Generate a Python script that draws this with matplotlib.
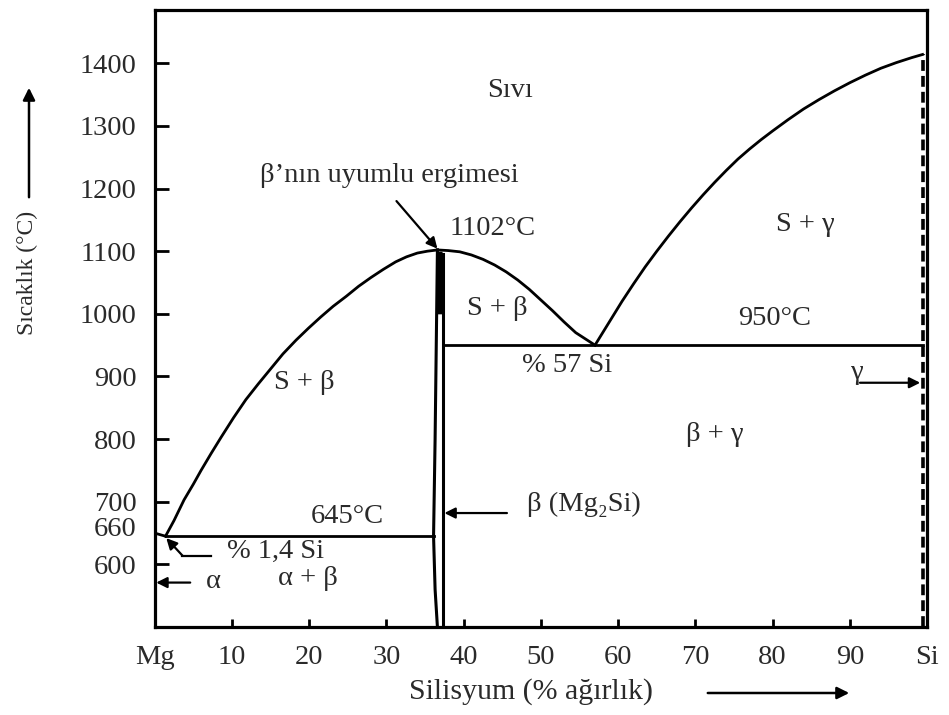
import matplotlib
matplotlib.use("Agg")
import matplotlib.pyplot as plt

plt.rcParams['font.family'] = ['Liberation Serif', 'DejaVu Serif']

# ---- data (wt% Si, temperature °C) ----
left_liq_x = [1.4, 2.5, 3.8, 5.0, 6.0, 7.3, 8.6, 10.2, 11.8, 13.4, 15.0, 16.6, 18.3,
              19.9, 21.5, 23.1, 24.8, 26.4, 28.0, 29.6, 31.2, 32.6, 34.0, 35.3, 36.6]
left_liq_y = [645, 670, 703, 728, 750, 777, 803, 834, 863, 888, 912, 936, 958,
              977, 995, 1012, 1028, 1044, 1058, 1071, 1083, 1091, 1097, 1100, 1102]

mid_liq_x = [36.6, 38.0, 39.5, 41.0, 42.5, 44.0, 45.5, 47.0, 48.5, 50.0, 51.5, 53.0,
             54.5, 56.0, 57.0]
mid_liq_y = [1102, 1101, 1099, 1094, 1087, 1078, 1067, 1054, 1039, 1022, 1005, 987,
             970, 958, 950]

right_liq_x = [57, 58, 59, 60.5, 62, 63.5, 65, 66.5, 68, 69.5, 71, 72.5, 74, 75.5, 77,
               78.5, 80, 82, 84, 86, 88, 90, 92, 94, 96, 98, 99.4]
right_liq_y = [950, 970, 990, 1020, 1048, 1075, 1100, 1124, 1147, 1169, 1190, 1210,
               1229, 1247, 1263, 1278, 1292, 1310, 1327, 1342, 1356, 1369, 1381, 1392,
               1401, 1409, 1414]

mg_liq_x = [0.0, 1.4]
mg_liq_y = [650, 645]

beta_left_x = [36.6, 36.5, 36.3, 36.1, 36.3, 36.6]
beta_left_y = [1102, 1000, 800, 645, 560, 500]
beta_right_x = [37.3, 37.3]
beta_right_y = [1096, 500]

gamma_x = 99.4
si_melt = 1414

eut1_T, eut1_x0, eut1_x1 = 645, 1.4, 36.1
eut2_T, eut2_x0, eut2_x1 = 950, 37.3, 99.4

xtick_pos = [0, 10, 20, 30, 40, 50, 60, 70, 80, 90, 100]
xtick_lab = ['Mg', '10', '20', '30', '40', '50', '60', '70', '80', '90', 'Si']
ytick_pos = [600, 660, 700, 800, 900, 1000, 1100, 1200, 1300, 1400]
ytick_lab = ['600', '660', '700', '800', '900', '1000', '1100', '1200', '1300', '1400']

TC = '#2a2a2a'
FS = 20.5

fig = plt.figure(figsize=(9.49, 7.15), dpi=100)
ax = fig.add_axes([0.163, 0.123, 0.814, 0.863])
ax.set_xlim(0, 100)
ax.set_ylim(500, 1485)

LW = 2.0
ax.plot(left_liq_x, left_liq_y, color='k', lw=LW, solid_joinstyle='round')
ax.plot(mid_liq_x, mid_liq_y, color='k', lw=LW, solid_joinstyle='round')
ax.plot(right_liq_x, right_liq_y, color='k', lw=LW, solid_joinstyle='round')
ax.plot(mg_liq_x, mg_liq_y, color='k', lw=LW)

ax.plot([eut1_x0, eut1_x1], [eut1_T, eut1_T], color='k', lw=LW)
ax.plot([eut2_x0, eut2_x1], [eut2_T, eut2_T], color='k', lw=LW)

# beta (Mg2Si) phase
ax.fill_betweenx([1000, 1100], [36.5, 36.6], [37.3, 37.2], color='k', lw=0)
ax.plot(beta_left_x, beta_left_y, color='k', lw=2.2)
ax.plot(beta_right_x, beta_right_y, color='k', lw=2.2)

# gamma (Si) boundary
ax.plot([gamma_x, gamma_x], [500, si_melt], color='k', lw=2.6, dashes=(3, 1.4))

arrow = dict(arrowstyle='-|>', lw=1.6, color='k', mutation_scale=16, shrinkA=0, shrinkB=0)

# annotations
ax.text(46, 1357, 'Sıvı', fontsize=FS, color=TC, ha='center', va='center')
ax.text(30.4, 1221, 'β’nın uyumlu ergimesi', fontsize=FS, color=TC, ha='center', va='center')
ax.annotate('', xy=(36.6, 1104), xytext=(31.3, 1180), arrowprops=arrow)
ax.text(38.2, 1137, '1102°C', fontsize=FS, color=TC, ha='left', va='center')
ax.text(44.3, 1009, 'S + β', fontsize=FS, color=TC, ha='center', va='center')
ax.text(19.4, 891, 'S + β', fontsize=FS, color=TC, ha='center', va='center')
ax.text(80.3, 993, '950°C', fontsize=FS, color=TC, ha='center', va='center')
ax.text(53.4, 918, '% 57 Si', fontsize=FS, color=TC, ha='center', va='center')
ax.text(84.2, 1142, 'S + γ', fontsize=FS, color=TC, ha='center', va='center')
ax.text(90.9, 907, 'γ', fontsize=FS, color=TC, ha='center', va='center')
ax.annotate('', xy=(99.1, 890), xytext=(91.3, 890), arrowprops=arrow)
ax.text(72.5, 807, 'β + γ', fontsize=FS, color=TC, ha='center', va='center')
ax.text(25.0, 676, '645°C', fontsize=FS, color=TC, ha='center', va='center')
ax.text(48.2, 695, 'β (Mg₂Si)', fontsize=FS, color=TC, ha='left', va='center')
ax.annotate('', xy=(37.5, 682), xytext=(45.6, 682), arrowprops=arrow)
ax.text(9.3, 620, '% 1,4 Si', fontsize=FS, color=TC, ha='left', va='center')
ax.plot([7.3, 3.6], [614, 614], color='k', lw=1.6)
ax.annotate('', xy=(1.5, 642), xytext=(3.6, 614), arrowprops=arrow)
ax.text(6.6, 573, 'α', fontsize=FS, color=TC, ha='left', va='center')
ax.annotate('', xy=(0.2, 571), xytext=(4.6, 571), arrowprops=arrow)
ax.text(19.8, 577, 'α + β', fontsize=FS, color=TC, ha='center', va='center')

# axes styling
for s in ax.spines.values():
    s.set_linewidth(2.3)
ax.set_xticks(xtick_pos)
ax.set_xticklabels(xtick_lab)
ax.set_yticks(ytick_pos)
ax.set_yticklabels(ytick_lab)
ax.tick_params(axis='x', direction='in', length=6, width=2.0, pad=13,
               labelsize=FS, labelcolor=TC)
ax.tick_params(axis='y', direction='in', length=10, width=2.0, pad=13,
               labelsize=FS, labelcolor=TC)
for t, v in zip(ax.yaxis.get_major_ticks(), ytick_pos):
    if v == 660:
        t.tick1line.set_visible(False)
for t, v in zip(ax.xaxis.get_major_ticks(), xtick_pos):
    if v in (0, 100):
        t.tick1line.set_visible(False)

# axis titles with arrows
fig.text(0.029, 1 - 273 / 715, 'Sıcaklık (°C)', rotation=90, fontsize=17,
         color=TC, ha='center', va='center')
fig.text(531 / 949, 1 - 692 / 715, 'Silisyum (% ağırlık)', fontsize=21.5,
         color=TC, ha='center', va='center')
fig.patches.append(matplotlib.patches.FancyArrowPatch(
    (29 / 949, 1 - 200 / 715), (29 / 949, 1 - 85 / 715),
    transform=fig.transFigure, arrowstyle='-|>', mutation_scale=18, lw=1.8, color='k'))
fig.patches.append(matplotlib.patches.FancyArrowPatch(
    (705 / 949, 1 - 693 / 715), (852 / 949, 1 - 693 / 715),
    transform=fig.transFigure, arrowstyle='-|>', mutation_scale=18, lw=1.8, color='k'))

fig.savefig('out.png', dpi=100)
